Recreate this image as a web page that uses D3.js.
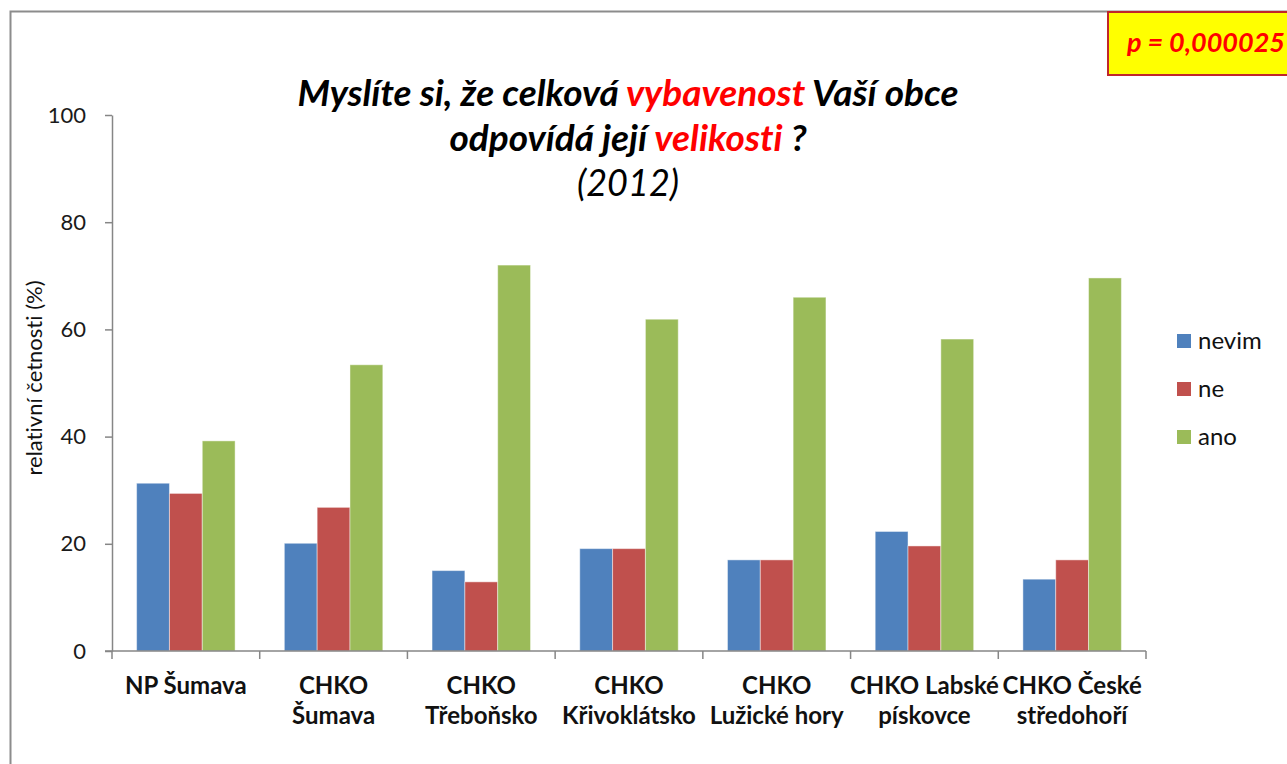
<!DOCTYPE html>
<html>
<head>
<meta charset="utf-8">
<script src="https://cdn.jsdelivr.net/npm/d3@7"></script>
<style>
  body { margin: 0; background: #fff; }
  text { font-family: Lato, "Liberation Sans", sans-serif; font-variant-ligatures: none; }
</style>
</head>
<body>
<div id="container"></div>
<script>
// categories, each label split into lines as in the picture
const categories = ["NP Šumava", "CHKO Šumava", "CHKO Třeboňsko", "CHKO Křivoklátsko",
    "CHKO Lužické hory", "CHKO Labské pískovce", "CHKO České středohoří"];
const labelLines = [
    ["NP Šumava"],
    ["CHKO", "Šumava"],
    ["CHKO", "Třeboňsko"],
    ["CHKO", "Křivoklátsko"],
    ["CHKO", "Lužické hory"],
    ["CHKO Labské", "pískovce"],
    ["CHKO České", "středohoří"]
];
const series = ["nevim", "ne", "ano"];
const nevim = [31.3, 20.1, 15.0, 19.1, 17.0, 22.3, 13.4];
const ne    = [29.4, 26.8, 12.9, 19.1, 17.0, 19.6, 17.0];
const ano   = [39.2, 53.4, 72.0, 61.9, 66.0, 58.2, 69.6];
const yTicks = [0, 20, 40, 60, 80, 100];
const pText = "p = 0,000025";

const colors = {nevim: "#4f81bd", ne: "#c0504d", ano: "#9bbb59"};

const width = 1287, height = 764;
const margins = {top: 115, bottom: 113, left: 112, right: 141};

const data = categories.map((c, i) => ({cat: c, lines: labelLines[i], nevim: nevim[i], ne: ne[i], ano: ano[i]}));

const svg = d3.select("#container").append("svg")
    .attr("width", width)
    .attr("height", height);

// outer chart frame (cropped at right and bottom)
svg.append("path")
    .attr("d", `M10.5,${height} V11.5 H${width}`)
    .attr("fill", "none")
    .attr("stroke", "#8c8c8c")
    .attr("stroke-width", 2);

const x0 = d3.scaleBand()
    .domain(categories)
    .range([margins.left, width - margins.right]);

const x1 = d3.scaleBand()
    .domain(series)
    .range([x0.bandwidth() / 6, x0.bandwidth() * 5 / 6]);

const y = d3.scaleLinear()
    .domain([0, 100])
    .range([height - margins.bottom, margins.top]);

// bars
const groups = svg.append("g").selectAll("g")
    .data(data)
    .enter().append("g")
    .attr("transform", d => `translate(${x0(d.cat)},0)`);

groups.selectAll("rect")
    .data(d => series.map(s => ({key: s, value: d[s]})))
    .enter().append("rect")
    .attr("x", d => x1(d.key))
    .attr("y", d => y(d.value))
    .attr("width", x1.bandwidth())
    .attr("height", d => y(0) - y(d.value))
    .attr("fill", d => colors[d.key])
    .attr("stroke", "rgba(255,255,255,0.45)")
    .attr("stroke-width", 1);

// y axis
const yAxis = d3.axisLeft(y).tickValues(yTicks).tickSize(7).tickPadding(19).tickSizeOuter(0);
const gy = svg.append("g")
    .attr("transform", `translate(${margins.left},0)`)
    .call(yAxis);
gy.select(".domain").attr("stroke", "#868686").attr("stroke-width", 1.5);
gy.selectAll(".tick line").attr("stroke", "#868686").attr("stroke-width", 1.5);
gy.selectAll("text")
    .style("font-family", "Lato, 'Liberation Sans', sans-serif")
    .style("font-size", "22px")
    .attr("fill", "#1a1a1a");

// x axis line and boundary ticks
const gx = svg.append("g").attr("transform", `translate(0,${y(0)})`);
gx.append("line")
    .attr("x1", margins.left - 7).attr("x2", width - margins.right)
    .attr("stroke", "#868686").attr("stroke-width", 1.5);
const bounds = categories.map(c => x0(c)).concat([x0(categories[categories.length - 1]) + x0.bandwidth()]);
gx.selectAll(".btick")
    .data(bounds)
    .enter().append("line")
    .attr("x1", d => d).attr("x2", d => d)
    .attr("y1", 0).attr("y2", 8)
    .attr("stroke", "#868686").attr("stroke-width", 1.5);

// category labels
const xl = svg.append("g").selectAll("text")
    .data(data)
    .enter().append("text")
    .attr("text-anchor", "middle")
    .attr("x", d => x0(d.cat) + x0.bandwidth() / 2)
    .attr("y", y(0) + 43)
    .style("font-size", "24px")
    .style("font-weight", "bold")
    .attr("fill", "#111");
xl.selectAll("tspan")
    .data(d => d.lines.map(l => ({line: l, x: x0(d.cat) + x0.bandwidth() / 2})))
    .enter().append("tspan")
    .attr("x", d => d.x)
    .attr("dy", (d, i) => i === 0 ? 0 : 30)
    .text(d => d.line);

// y axis title
svg.append("text")
    .attr("text-anchor", "middle")
    .attr("transform", `translate(42,378) rotate(-90)`)
    .style("font-size", "22px")
    .attr("fill", "#111")
    .text("relativní četnosti (%)");

// title
const title = svg.append("g").attr("transform", "translate(628,0)");
const t1 = title.append("text").attr("text-anchor", "middle").attr("y", 106)
    .style("font-size", "37px").style("font-weight", "bold").style("font-style", "italic");
t1.append("tspan").text("Myslíte si, že celková ");
t1.append("tspan").attr("fill", "#ff0000").text("vybavenost");
t1.append("tspan").text(" Vaší obce");
const t2 = title.append("text").attr("text-anchor", "middle").attr("y", 151)
    .style("font-size", "37px").style("font-weight", "bold").style("font-style", "italic");
t2.append("tspan").text("odpovídá její ");
t2.append("tspan").attr("fill", "#ff0000").text("velikosti");
t2.append("tspan").text(" ?");
title.append("text").attr("text-anchor", "middle").attr("y", 196)
    .style("font-size", "36px").style("font-style", "italic")
    .text("(2012)");

// p-value box
svg.append("rect")
    .attr("x", 1108).attr("y", 12)
    .attr("width", 190).attr("height", 63)
    .attr("fill", "#ffff00")
    .attr("stroke", "#c0262b").attr("stroke-width", 2);
svg.append("text")
    .attr("x", 1127).attr("y", 52)
    .style("font-size", "27px").style("font-weight", "bold").style("font-style", "italic")
    .attr("fill", "#ff0000")
    .text(pText);

// legend
const legend = svg.append("g").selectAll("g")
    .data(series)
    .enter().append("g")
    .attr("transform", (d, i) => `translate(1177,${341 + i * 48})`);
legend.append("rect")
    .attr("x", 0).attr("y", -7)
    .attr("width", 14).attr("height", 14)
    .attr("fill", d => colors[d]);
legend.append("text")
    .attr("x", 21).attr("y", 8)
    .style("font-size", "24px")
    .attr("fill", "#111")
    .text(d => d);
</script>
</body>
</html>
